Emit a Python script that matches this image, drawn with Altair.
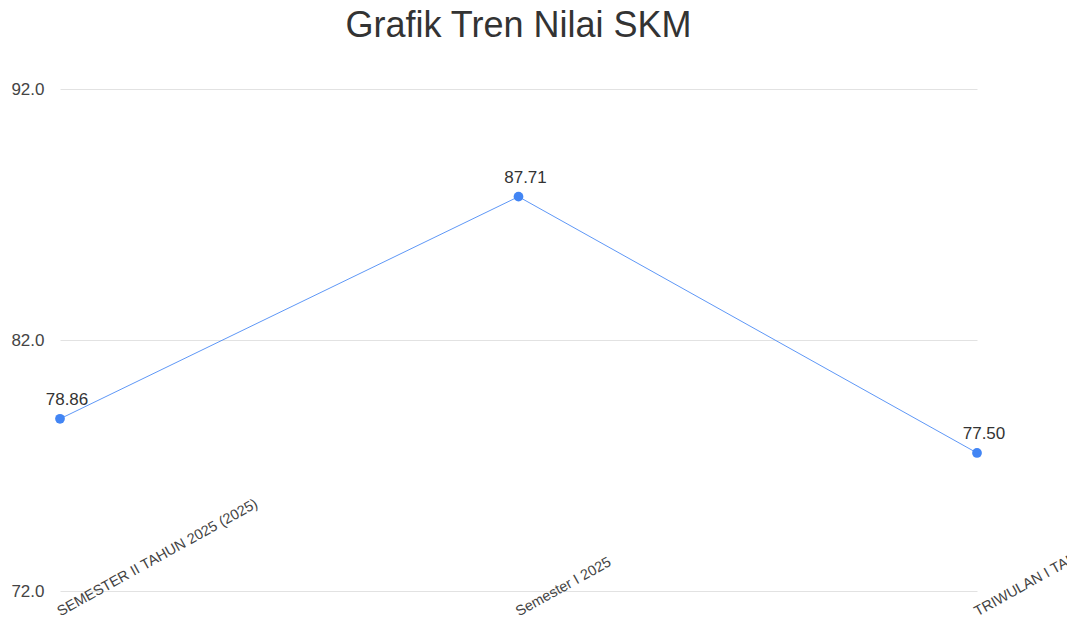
import altair as alt
import pandas as pd

periods = ["SEMESTER II TAHUN 2025 (2025)", "Semester I 2025", "TRIWULAN I TAHUN 2026"]
values = [78.86, 87.71, 77.50]
labels = ["78.86", "87.71", "77.50"]

df = pd.DataFrame({"period": periods, "value": values, "label": labels})

FONT = "Liberation Sans"
BLUE = "#4285f4"

x = alt.X("period:N", sort=periods, title=None,
          scale=alt.Scale(type="point", padding=0),
          axis=alt.Axis(labelAngle=-29, labelAlign="left", labelBaseline="alphabetic",
                        labelPadding=25, ticks=False, domain=False, grid=False,
                        labelFontSize=14.5, labelColor="#444444", labelFont=FONT,
                        labelLimit=0))
y = alt.Y("value:Q", title=None,
          scale=alt.Scale(domain=[72, 92], nice=False, zero=False),
          axis=alt.Axis(values=[72, 82, 92], format=".1f", ticks=False, domain=False,
                        labelPadding=16, labelFontSize=17, labelColor="#444444",
                        labelFont=FONT, gridColor="#e2e2e2", gridWidth=1))

base = alt.Chart(df).encode(x=x, y=y)

line = base.mark_line(color=BLUE, strokeWidth=1, opacity=0.85)
pts = base.mark_circle(color=BLUE, size=95, opacity=1)
txt = base.mark_text(dy=-19, dx=7, fontSize=17, color="#333333", font=FONT).encode(text="label:N")

chart = (line + pts + txt).properties(
    width=917, height=502,
    title=alt.TitleParams("Grafik Tren Nilai SKM", fontSize=36, font=FONT, color="#333333",
                          fontWeight="normal", anchor="middle", offset=35),
    autosize=alt.AutoSizeParams(type="none"),
    padding={"left": 52, "top": 81, "right": 90, "bottom": 26},
).configure_view(stroke=None)

chart.save("out.html", embed_options={"renderer": "svg", "actions": False})
